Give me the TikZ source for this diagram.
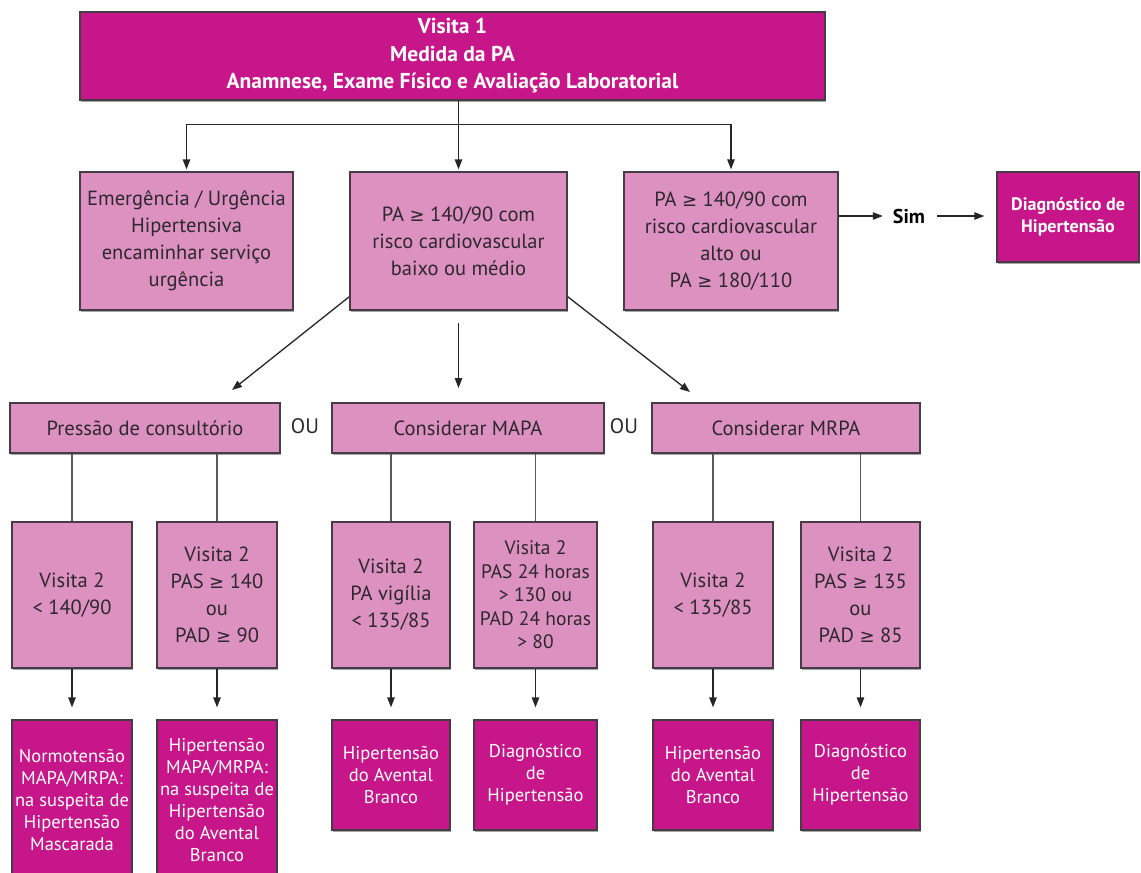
\documentclass[tikz,border=0pt]{standalone}
\usepackage{fontspec}
\setmainfont{PT Sans}
\newfontfamily\symfont{DejaVu Sans}[Scale=0.88]
\newcommand{\gsym}{{\symfont ≥}}
\usetikzlibrary{arrows.meta,calc,shadows}
\definecolor{mag}{RGB}{199,22,138}
\definecolor{lpink}{RGB}{220,145,192}
\definecolor{bord}{RGB}{70,60,70}
\definecolor{txt}{RGB}{45,40,45}
\begin{document}
\begin{tikzpicture}[x=1pt,y=-1pt,
  base/.style={draw=bord,line width=1.3pt,align=center,inner sep=0pt,
    drop shadow={shadow xshift=0.8pt,shadow yshift=-1.6pt,fill=black!35,opacity=1}},
  lbox/.style={base,fill=lpink,text=txt,font=\fontsize{20.5}{27}\selectfont},
  dbox/.style={base,fill=mag,text=white,font=\fontsize{18.5}{22}\selectfont},
  arr/.style={-{Triangle[length=10pt,width=7.5pt]},line width=1.3pt,draw=black!85},
  ln/.style={line width=1.5pt,draw=black!65},
  ou/.style={text=txt,font=\fontsize{21}{22}\selectfont,inner sep=0pt}]
\useasboundingbox (0,0) rectangle (1141,873);
% top
\node[base,fill=mag,text=white,font=\bfseries\fontsize{21.5}{27.5}\selectfont,
  minimum width=745,minimum height=88] (top) at (452.5,56)
  {Visita 1\\Medida da PA\\Anamnese, Exame Físico e Avaliação Laboratorial};
% row 2
\node[lbox,minimum width=213,minimum height=138] (A) at (186.5,241)
  {Emergência / Urgência\\Hipertensiva\\encaminhar serviço\\urgência};
\node[lbox,minimum width=217,minimum height=138] (B) at (458.5,241)
  {PA \gsym{} 140/90 com\\risco cardiovascular\\baixo ou médio};
\node[lbox,minimum width=214,minimum height=138] (C) at (731,241)
  {PA \gsym{} 140/90 com\\risco cardiovascular\\alto ou\\PA \gsym{} 180/110};
\node[font=\bfseries\fontsize{20}{22}\selectfont,text=black,inner sep=0pt] (sim) at (909,216) {Sim};
\node[base,fill=mag,text=white,font=\bfseries\fontsize{18}{22}\selectfont,
  minimum width=142,minimum height=90] (D) at (1068,217)
  {Diagnóstico de\\Hipertensão};
% connectors top
\coordinate (jn) at ($(B.north)+(0,-47)$);
\draw[line width=1.3pt,draw=black!85] (top.south -| B.north) -- (jn);
\draw[line width=1.3pt,draw=black!85] (jn -| A.north) -- (jn -| C.north);
\draw[arr,shorten >=2pt] (jn -| A.north) -- (A.north);
\draw[arr,shorten >=2pt] (jn) -- (B.north);
\draw[arr,shorten >=2pt] (jn -| C.north) -- (C.north);
\draw[arr,shorten >=10pt] (C.east |- sim) -- (sim.west);
\draw[arr,shorten <=12pt,shorten >=12pt] (sim.east) -- (D.west |- sim);
% row 3
\node[lbox,minimum width=270,minimum height=50] (P1) at (145,428) {Pressão de consultório};
\node[lbox,minimum width=272,minimum height=50] (P2) at (468,428) {Considerar MAPA};
\node[lbox,minimum width=268,minimum height=50] (P3) at (786,428) {Considerar MRPA};
\node[ou] (ou1) at (305,426) {OU};
\node[ou] (ou2) at (624,426) {OU};
% diagonal arrows
\coordinate (e1) at (232,390);
\coordinate (e2) at (458.5,388);
\coordinate (e3) at (690,392);
\draw[arr] ($(B.south west)+(0,-14)$) -- (e1);
\draw[arr] ($(B.south)+(0,12)$) -- (e2);
\draw[arr] ($(B.south east)+(0,-14)$) -- (e3);
% row 4
\node[lbox,minimum width=120,minimum height=146] (Q1) at (72,595) {Visita 2\\< 140/90};
\node[lbox,minimum width=120,minimum height=146] (Q2) at (217,595) {Visita 2\\PAS \gsym{} 140\\ou\\PAD \gsym{} 90};
\node[lbox,minimum width=118,minimum height=146] (Q3) at (391,595) {Visita 2\\PA vigília\\< 135/85};
\node[lbox,minimum width=123,minimum height=146,font=\fontsize{19.5}{23.5}\selectfont] (Q4) at (535.5,595)
  {Visita 2\\PAS 24 horas\\> 130 ou\\PAD 24 horas\\> 80};
\node[lbox,minimum width=120,minimum height=146] (Q5) at (713,595) {Visita 2\\< 135/85};
\node[lbox,minimum width=119,minimum height=146] (Q6) at (860.5,595) {Visita 2\\PAS \gsym{} 135\\ou\\PAD \gsym{} 85};
\draw[ln] (Q1.north |- P1.south) -- (Q1.north);
\draw[ln] (Q2.north |- P1.south) -- (Q2.north);
\draw[ln] (Q3.north |- P2.south) -- (Q3.north);
\draw[ln] (Q4.north |- P2.south) -- (Q4.north);
\draw[ln] (Q5.north |- P3.south) -- (Q5.north);
\draw[ln] (Q6.north |- P3.south) -- (Q6.north);
% row 5
\node[dbox,minimum width=120,minimum height=160] (R1) at (72,800)
  {Normotensão\\MAPA/MRPA:\\na suspeita de\\Hipertensão\\Mascarada};
\node[dbox,minimum width=120,minimum height=160] (R2) at (217,800)
  {Hipertensão\\MAPA/MRPA:\\na suspeita de\\Hipertensão\\do Avental\\Branco};
\node[dbox,minimum width=118,minimum height=110] (R3) at (391,775) {Hipertensão\\do Avental\\Branco};
\node[dbox,minimum width=123,minimum height=110] (R4) at (535.5,775) {Diagnóstico\\de\\Hipertensão};
\node[dbox,minimum width=120,minimum height=110] (R5) at (713,775) {Hipertensão\\do Avental\\Branco};
\node[dbox,minimum width=119,minimum height=110] (R6) at (860.5,775) {Diagnóstico\\de\\Hipertensão};
\foreach \i in {1,...,6}{\draw[arr,shorten >=12pt] (Q\i.south) -- (R\i.north);}
\end{tikzpicture}
\end{document}
